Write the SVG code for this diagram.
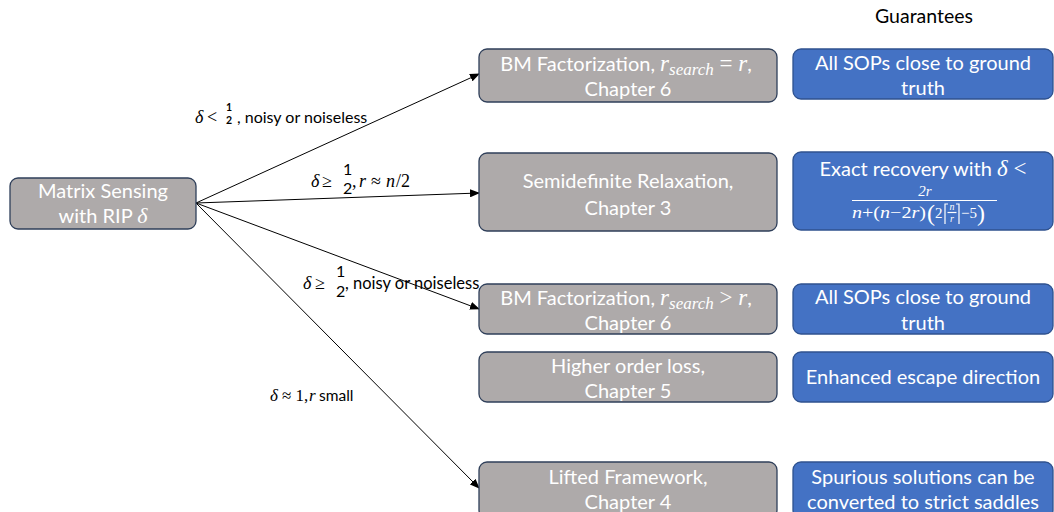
<svg xmlns="http://www.w3.org/2000/svg" width="1054" height="512" viewBox="0 0 1054 512">
  <defs>
    <marker id="arrow" markerUnits="userSpaceOnUse" markerWidth="10" markerHeight="8" refX="9" refY="4" orient="auto">
      <path d="M0,0 L10,4 L0,8 z" fill="#000"/>
    </marker>
    <style>
      .grey { fill: #aeaaaa; stroke: #2f3f5a; stroke-width: 1.3; }
      .blue { fill: #4472c4; stroke: #2f528f; stroke-width: 1.3; }
      .lbl { font-family: Lato, "Liberation Sans", sans-serif; font-size: 20px; fill: #fff; text-anchor: middle; }
      .m { font-family: "Liberation Serif", serif; font-style: italic; }
      .mr { font-family: "Liberation Serif", serif; font-style: normal; }
      .edge { font-family: Lato, "Liberation Sans", sans-serif; fill: #000; }
      .conn { stroke: #000; stroke-width: 1; fill: none; marker-end: url(#arrow); }
      .wl { stroke: #fff; stroke-width: 1.2; fill: none; }
      .fm { font-family: "Liberation Serif", serif; fill: #fff; }
    </style>
  </defs>

  <rect width="1054" height="512" fill="#fff"/>

  <text x="924" y="23" font-family="Lato, 'Liberation Sans', sans-serif" font-size="19.5" fill="#000" text-anchor="middle">Guarantees</text>

  <!-- connectors -->
  <g id="connectors">
    <line class="conn" x1="196" y1="203" x2="479" y2="74"/>
    <line class="conn" x1="196" y1="203" x2="479" y2="193"/>
    <line class="conn" x1="196" y1="203" x2="479" y2="309"/>
    <line class="conn" x1="196" y1="203" x2="479" y2="488"/>
  </g>

  <!-- edge labels -->
  <g id="edge-labels">
    <text class="edge" y="123" font-size="18"><tspan class="m" x="195">δ</tspan><tspan class="mr" x="207">&lt;</tspan></text>
    <text class="edge mr" x="226" y="111" font-size="10.5" font-weight="bold">1</text>
    <text class="edge mr" x="226" y="124" font-size="10.5" font-weight="bold">2</text>
    <text class="edge" x="237" y="123" font-size="16">, noisy or noiseless</text>

    <text class="edge" y="187" font-size="18"><tspan class="m" x="311">δ</tspan><tspan class="mr" x="322">≥</tspan></text>
    <text class="edge mr" x="343" y="175" font-size="16">1</text>
    <text class="edge mr" x="343" y="194" font-size="16">2</text>
    <text class="edge" y="187" font-size="18"><tspan class="mr" x="352">,</tspan><tspan class="m" x="359">r</tspan><tspan class="mr" x="371">≈</tspan><tspan class="m" x="386">n</tspan><tspan class="mr" x="396">/2</tspan></text>

    <text class="edge" y="289" font-size="18"><tspan class="m" x="303">δ</tspan><tspan class="mr" x="315">≥</tspan></text>
    <text class="edge mr" x="336" y="277" font-size="16">1</text>
    <text class="edge mr" x="336" y="297" font-size="16">2</text>
    <text class="edge" x="345" y="289" font-size="16.5">, noisy or noiseless</text>

    <text class="edge" y="401" font-size="17"><tspan class="m" x="270">δ</tspan><tspan class="mr" x="282">≈ 1,</tspan><tspan class="m" x="309">r</tspan><tspan x="319" font-size="15.5">small</tspan></text>
  </g>

  <!-- source node -->
  <g id="matrix-sensing">
    <rect class="grey" x="10" y="178" width="186" height="51" rx="8"/>
    <text class="lbl" x="103" y="198">Matrix Sensing</text>
    <text class="lbl" x="103" y="223">with RIP <tspan class="m" font-size="22">δ</tspan></text>
  </g>

  <!-- method nodes -->
  <g id="bm-equal">
    <rect class="grey" x="479" y="49" width="298" height="53" rx="8"/>
    <text class="lbl" x="626" y="71">BM Factorization, <tspan class="m" font-size="23">r</tspan><tspan class="m" font-size="17" dy="4">search</tspan><tspan class="mr" font-size="23" dy="-4"> = </tspan><tspan class="m" font-size="23">r</tspan>,</text>
    <text class="lbl" x="628" y="96">Chapter 6</text>
  </g>

  <g id="sdp">
    <rect class="grey" x="479" y="153" width="298" height="78" rx="8"/>
    <text class="lbl" x="628" y="188">Semidefinite Relaxation,</text>
    <text class="lbl" x="628" y="215">Chapter 3</text>
  </g>

  <g id="bm-greater">
    <rect class="grey" x="479" y="284" width="298" height="50" rx="8"/>
    <text class="lbl" x="626" y="305">BM Factorization, <tspan class="m" font-size="23">r</tspan><tspan class="m" font-size="17" dy="4">search</tspan><tspan class="mr" font-size="23" dy="-4"> &gt; </tspan><tspan class="m" font-size="23">r</tspan>,</text>
    <text class="lbl" x="628" y="330">Chapter 6</text>
  </g>

  <g id="higher-order">
    <rect class="grey" x="479" y="352" width="298" height="50" rx="8"/>
    <text class="lbl" x="628" y="373">Higher order loss,</text>
    <text class="lbl" x="628" y="398">Chapter 5</text>
  </g>

  <g id="lifted">
    <rect class="grey" x="479" y="462" width="298" height="56" rx="8"/>
    <text class="lbl" x="628" y="484">Lifted Framework,</text>
    <text class="lbl" x="628" y="509">Chapter 4</text>
  </g>

  <!-- guarantee nodes -->
  <g id="g-sops-1">
    <rect class="blue" x="793" y="49" width="260" height="50" rx="8"/>
    <text class="lbl" x="923" y="70">All SOPs close to ground</text>
    <text class="lbl" x="923" y="95">truth</text>
  </g>

  <g id="g-exact">
    <rect class="blue" x="793" y="152" width="260" height="78" rx="8"/>
    <text class="lbl" x="923" y="176">Exact recovery with <tspan class="m" font-size="23">δ</tspan><tspan class="mr" font-size="23"> &lt;</tspan></text>
    <text class="fm" x="925" y="196" font-size="15" font-style="italic" text-anchor="middle">2r</text>
    <line class="wl" x1="852" y1="200.5" x2="997" y2="200.5"/>
    <text class="fm" x="852" y="218" font-size="16" textLength="74" lengthAdjust="spacingAndGlyphs"><tspan font-style="italic">n</tspan>+(<tspan font-style="italic">n</tspan>−2<tspan font-style="italic">r</tspan>)</text>
    <text class="fm" x="927" y="221" font-size="24">(</text>
    <text class="fm" x="935" y="218" font-size="15">2</text>
    <path class="wl" d="M945,224 V204 H948 M959,224 V204 H956"/>
    <text class="fm" x="952" y="210" font-size="10" font-style="italic" text-anchor="middle">n</text>
    <line class="wl" x1="947.5" y1="212.5" x2="956.5" y2="212.5" stroke-width="0.8"/>
    <text class="fm" x="952" y="222" font-size="10" font-style="italic" text-anchor="middle">r</text>
    <text class="fm" x="961" y="218" font-size="15">−5</text>
    <text class="fm" x="977" y="221" font-size="24">)</text>
  </g>

  <g id="g-sops-2">
    <rect class="blue" x="793" y="284" width="260" height="50" rx="8"/>
    <text class="lbl" x="923" y="304">All SOPs close to ground</text>
    <text class="lbl" x="923" y="330">truth</text>
  </g>

  <g id="g-escape">
    <rect class="blue" x="793" y="352" width="260" height="50" rx="8"/>
    <text class="lbl" x="923" y="384">Enhanced escape direction</text>
  </g>

  <g id="g-spurious">
    <rect class="blue" x="793" y="462" width="260" height="56" rx="8"/>
    <text class="lbl" x="923" y="484">Spurious solutions can be</text>
    <text class="lbl" x="923" y="509">converted to strict saddles</text>
  </g>
</svg>
